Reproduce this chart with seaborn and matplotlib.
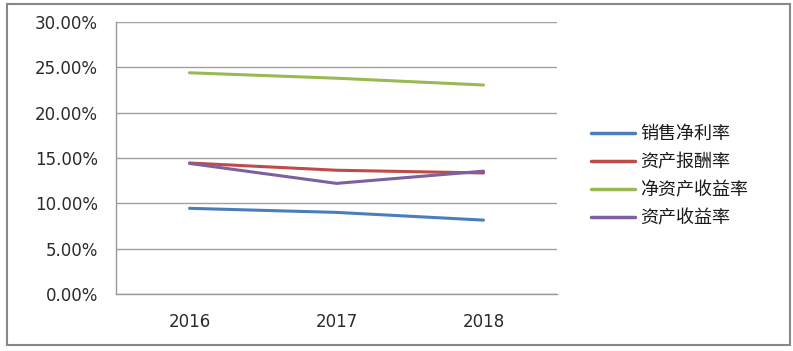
import pandas as pd
import numpy as np
import matplotlib
matplotlib.use('Agg')
import matplotlib.pyplot as plt
import seaborn as sns
from matplotlib.ticker import FuncFormatter, FixedLocator
from matplotlib.patches import Rectangle

years = ['2016', '2017', '2018']
series_names = ['销售净利率', '资产报酬率', '净资产收益率', '资产收益率']
net_margin = [9.45, 9.0, 8.15]
roa_return = [14.45, 13.65, 13.35]
roe = [24.4, 23.8, 23.05]
asset_yield = [14.4, 12.2, 13.55]
colors = ['#4A7EBB', '#BE4B48', '#98B954', '#7D60A0']

sns.set_theme(style='white')
plt.rcParams['font.family'] = ['DejaVu Sans', 'Noto Sans CJK SC']

df = pd.DataFrame({
    'year': years * 4,
    'x': list(range(len(years))) * 4,
    'val': net_margin + roa_return + roe + asset_yield,
    'name': sum([[n] * len(years) for n in series_names], []),
})

fig = plt.figure(figsize=(7.93, 3.51), dpi=100)
ax = fig.add_axes([116/793, 1 - 294/351, (557-116)/793, (294-22)/351])

sns.lineplot(data=df, x='x', y='val', hue='name', hue_order=series_names,
             palette=colors, linewidth=2.2, ax=ax, legend=True)

ax.set_xlim(-0.5, 2.5)
ax.set_ylim(0, 30)
ax.set_yticks(np.arange(0, 31, 5))
ax.yaxis.set_major_formatter(FuncFormatter(lambda v, p: f'{v:.2f}%'))
ax.set_xticks(range(len(years)))
ax.set_xticklabels(years)
ax.xaxis.set_minor_locator(FixedLocator([-0.5, 0.5, 1.5, 2.5]))
ax.tick_params(axis='x', which='major', length=0, pad=14, labelsize=12, labelcolor='#2a2a2a')
ax.tick_params(axis='x', which='minor', length=5, width=1, color='#999999', direction='out')
ax.tick_params(axis='y', length=5, width=1, color='#999999', direction='out', pad=8,
               labelsize=12, labelcolor='#2a2a2a')
ax.set_xlabel('')
ax.set_ylabel('')
ax.grid(axis='y', color='#a0a0a0', linewidth=1)
ax.set_axisbelow(True)
for s in ['top', 'right']:
    ax.spines[s].set_visible(False)
for s in ['left', 'bottom']:
    ax.spines[s].set_color('#999999')
    ax.spines[s].set_linewidth(1)

handles, labels = ax.get_legend_handles_labels()
ax.get_legend().remove()
leg = fig.legend(handles, labels, loc='center left', bbox_to_anchor=(575/793, 1 - 176/351),
                 frameon=False, handlelength=2.4, labelspacing=0.55, handletextpad=0.3,
                 prop={'family': ['Noto Sans CJK SC', 'DejaVu Sans'], 'size': 13})
for line in leg.get_lines():
    line.set_linewidth(2.5)
for t in leg.get_texts():
    t.set_color('#1a1a1a')

fig.patches.append(Rectangle((7/793, 1 - 345/351), (790-7)/793, (345-4)/351,
                             transform=fig.transFigure, fill=False,
                             edgecolor='#888888', linewidth=1.5))

plt.savefig('out.png', dpi=100)
